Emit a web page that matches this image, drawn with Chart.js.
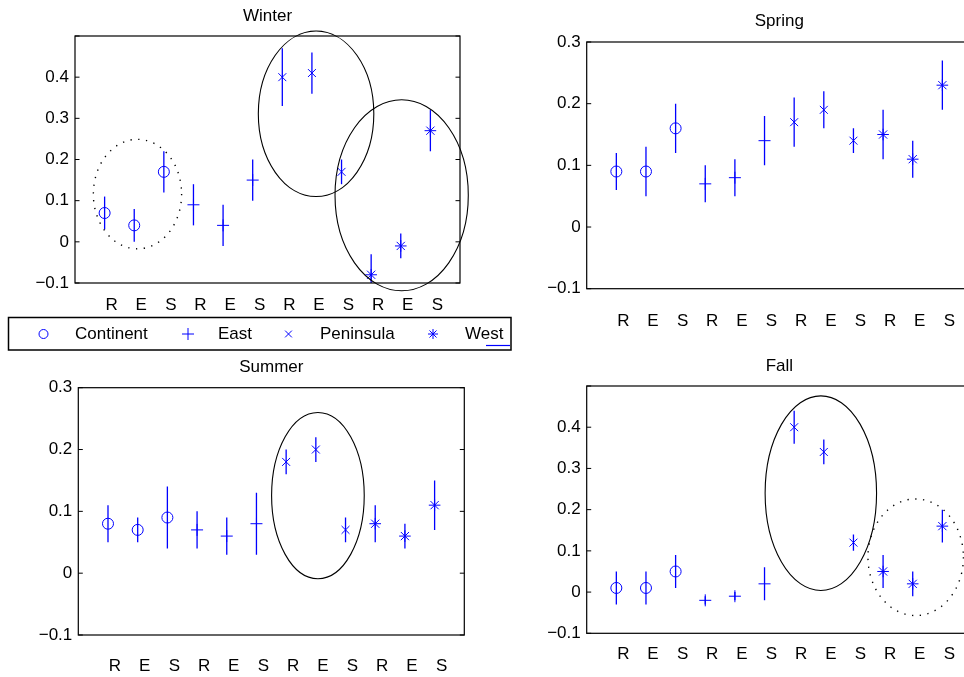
<!DOCTYPE html>
<html>
<head>
<meta charset="utf-8">
<script src="https://cdn.jsdelivr.net/npm/chart.js@4.4.1/dist/chart.umd.min.js"></script>
<style>
html,body{margin:0;padding:0;background:#fff;overflow:hidden;width:964px;height:677px;}
canvas{position:absolute;}
</style>
</head>
<body>
<canvas id="winter" width="514" height="352" style="left:0;top:0"></canvas>
<canvas id="spring" width="510" height="340" style="left:480px;top:0"></canvas>
<canvas id="summer" width="480" height="325" style="left:0;top:352px"></canvas>
<canvas id="fall" width="510" height="325" style="left:480px;top:352px"></canvas>
<script>
// ---------- data ----------
const xLabels = ['R','E','S','R','E','S','R','E','S','R','E','S'];
const seriesNames = ['Continent','East','Peninsula','West'];
const seriesOfPoint = [0,0,0,1,1,1,2,2,2,3,3,3];

const winterMean = [0.07,0.04,0.17,0.09,0.04,0.15,0.40,0.41,0.17,-0.08,-0.01,0.27];
const winterLow  = [0.03,0.00,0.12,0.04,-0.01,0.10,0.33,0.36,0.14,-0.13,-0.04,0.22];
const winterHigh = [0.11,0.08,0.22,0.14,0.09,0.20,0.47,0.46,0.20,-0.03,0.02,0.32];

const springMean = [0.09,0.09,0.16,0.07,0.08,0.14,0.17,0.19,0.14,0.15,0.11,0.23];
const springLow  = [0.06,0.05,0.12,0.04,0.05,0.10,0.13,0.16,0.12,0.11,0.08,0.19];
const springHigh = [0.12,0.13,0.20,0.10,0.11,0.18,0.21,0.22,0.16,0.19,0.14,0.27];

const summerMean = [0.08,0.07,0.09,0.07,0.06,0.08,0.18,0.20,0.07,0.08,0.06,0.11];
const summerLow  = [0.05,0.05,0.04,0.04,0.03,0.03,0.16,0.18,0.05,0.05,0.04,0.07];
const summerHigh = [0.11,0.09,0.14,0.10,0.09,0.13,0.20,0.22,0.09,0.11,0.08,0.15];

const fallMean = [0.01,0.01,0.05,-0.02,-0.01,0.02,0.40,0.34,0.12,0.05,0.02,0.16];
const fallLow  = [-0.03,-0.03,0.01,-0.03,-0.02,-0.02,0.36,0.31,0.10,0.01,-0.01,0.12];
const fallHigh = [0.05,0.05,0.09,-0.01,0.00,0.06,0.44,0.37,0.14,0.09,0.05,0.20];

const yTicksWide = [-0.1,0,0.1,0.2,0.3,0.4,0.5];
const yLabelsWide = ['\u22120.1','0','0.1','0.2','0.3','0.4',''];
const yTicksNarrow = [-0.1,0,0.1,0.2,0.3];
const yLabelsNarrow = ['\u22120.1','0','0.1','0.2','0.3'];

// ellipses: [centerX, centerY, radiusX, radiusY, dotted(1)/solid(0)] in data units
const winterEllipses = [[2.11,0.116,1.49,0.133,1],[8.14,0.311,1.95,0.201,0],[11.03,0.113,2.25,0.232,0]];
const springEllipses = [];
const summerEllipses = [[8.07,0.1255,1.56,0.1345,0]];
const fallEllipses   = [[7.90,0.240,1.88,0.236,0],[11.10,0.0845,1.61,0.1415,1]];

// ---------- styles ----------
const BLUE = '#0000ff';
const FONT = "'Liberation Sans', Arial, Helvetica, sans-serif";
Chart.defaults.font.family = FONT;
const pointStyles = ['circle','cross','crossRot','star'];
const pointRadii = [5.5,6,5.6,5.8];

function buildDatasets(mean){
  return seriesNames.map((name,s)=>({
    label: name,
    data: mean.map((v,i)=>({x:i+1,y:v})).filter((p,i)=>seriesOfPoint[i]===s),
    pointStyle: pointStyles[s],
    pointRadius: pointRadii[s],
    pointHoverRadius: pointRadii[s],
    pointBorderWidth: 1,
    pointHoverBorderWidth: 1,
    borderColor: BLUE,
    backgroundColor: 'rgba(0,0,0,0)',
    showLine: false
  }));
}

function makeChart(id, o){
  const plugin = {
    id: 'deco_'+id,
    beforeDatasetsDraw(chart){
      const ctx = chart.ctx, xs = chart.scales.x, ys = chart.scales.y, ca = chart.chartArea;
      ctx.save();
      ctx.beginPath(); ctx.rect(ca.left, ca.top, ca.right-ca.left, ca.bottom-ca.top); ctx.clip();
      ctx.strokeStyle = BLUE; ctx.lineWidth = 1.3;
      o.low.forEach((lo,i)=>{
        const x = xs.getPixelForValue(i+1);
        ctx.beginPath();
        ctx.moveTo(x, ys.getPixelForValue(lo));
        ctx.lineTo(x, ys.getPixelForValue(o.high[i]));
        ctx.stroke();
      });
      ctx.restore();
    },
    afterDraw(chart){
      const ctx = chart.ctx, xs = chart.scales.x, ys = chart.scales.y, ca = chart.chartArea;
      ctx.save();
      // box
      ctx.strokeStyle = '#000'; ctx.lineWidth = 1.2;
      ctx.strokeRect(ca.left, ca.top, ca.right-ca.left, ca.bottom-ca.top);
      // inner y ticks, both sides
      ctx.lineWidth = 1;
      o.yTicks.forEach(v=>{
        const y = ys.getPixelForValue(v);
        ctx.beginPath();
        ctx.moveTo(ca.left, y); ctx.lineTo(ca.left+4.5, y);
        ctx.moveTo(ca.right, y); ctx.lineTo(ca.right-4.5, y);
        ctx.stroke();
      });
      // ellipses
      o.ellipses.forEach(e=>{
        const cx = xs.getPixelForValue(e[0]), cy = ys.getPixelForValue(e[1]);
        const rx = Math.abs(xs.getPixelForValue(e[0]+e[2]) - cx);
        const ry = Math.abs(ys.getPixelForValue(e[1]+e[3]) - cy);
        ctx.beginPath();
        ctx.ellipse(cx, cy, rx, ry, 0, 0, Math.PI*2);
        if (e[4]) { ctx.setLineDash([1.3,6.5]); ctx.lineWidth = 1.4; }
        else { ctx.setLineDash([]); ctx.lineWidth = 1.1; }
        ctx.strokeStyle = '#000';
        ctx.stroke();
      });
      ctx.setLineDash([]);
      ctx.restore();
      if (o.legend) o.legend(chart);
    }
  };
  return new Chart(document.getElementById(id), {
    type: 'scatter',
    data: { datasets: buildDatasets(o.mean) },
    options: {
      responsive: false,
      animation: false,
      events: [],
      layout: { padding: o.pad },
      plugins: {
        legend: { display: false },
        tooltip: { enabled: false },
        title: {
          display: true, text: o.title, fullSize: false, color: '#000',
          font: { size: 17, weight: 'normal', family: FONT },
          padding: o.titlePad
        }
      },
      scales: {
        x: {
          type: 'linear', min: 0, max: 13,
          afterBuildTicks: s => { s.ticks = xLabels.map((_,i)=>({value:i+1})); },
          afterFit: s => { s.height = o.xHeight; },
          ticks: {
            callback: (v,i) => xLabels[i], autoSkip: false, maxRotation: 0, minRotation: 0,
            labelOffset: 7, padding: o.xPad, color: '#000', font: { size: 17, family: FONT }
          },
          grid: { display: false, drawTicks: false },
          border: { display: false }
        },
        y: {
          type: 'linear', min: o.yTicks[0], max: o.yTicks[o.yTicks.length-1],
          afterBuildTicks: s => { s.ticks = o.yTicks.map(v=>({value:v})); },
          afterFit: s => { s.width = o.yWidth; },
          ticks: {
            callback: (v,i) => o.yLabels[i], autoSkip: false, padding: 6,
            color: '#000', font: { size: 17, family: FONT }
          },
          grid: { display: false, drawTicks: false },
          border: { display: false }
        }
      }
    },
    plugins: [plugin]
  });
}

// legend for the figure (drawn on the Winter canvas)
function drawLegend(chart){
  const ctx = chart.ctx;
  const box = {l:8.5, t:317.5, r:511, b:350};
  const markerX = [43.5,188,288.5,433];
  const textX = [75,218,320,465];
  const cy = 334;
  const legRadii = [4.5,6,4.8,5];
  ctx.save();
  ctx.strokeStyle = '#000'; ctx.lineWidth = 1.5;
  ctx.strokeRect(box.l, box.t, box.r-box.l, box.b-box.t);
  chart.data.datasets.forEach((ds,s)=>{
    ctx.strokeStyle = BLUE; ctx.fillStyle = 'rgba(0,0,0,0)'; ctx.lineWidth = 1;
    Chart.helpers.drawPoint(ctx, {pointStyle: ds.pointStyle, radius: legRadii[s], borderWidth: 1, rotation: 0}, markerX[s], cy);
    ctx.fillStyle = '#000';
    ctx.font = "17px " + FONT;
    ctx.textBaseline = 'middle'; ctx.textAlign = 'left';
    ctx.fillText(ds.label, textX[s], cy + 0.5);
  });
  // clipped line sample peeking at the lower right
  ctx.strokeStyle = BLUE; ctx.lineWidth = 1.2;
  ctx.beginPath(); ctx.moveTo(486, 345.5); ctx.lineTo(510, 345.5); ctx.stroke();
  ctx.restore();
}

makeChart('winter', {
  title: 'Winter', mean: winterMean, low: winterLow, high: winterHigh,
  yTicks: yTicksWide, yLabels: yLabelsWide, ellipses: winterEllipses,
  pad: {left:0, right:54, top:0, bottom:35}, titlePad: {top:5.8, bottom:9.8},
  yWidth: 75, xHeight: 34, xPad: 12, legend: drawLegend
});
makeChart('spring', {
  title: 'Spring', mean: springMean, low: springLow, high: springHigh,
  yTicks: yTicksNarrow, yLabels: yLabelsNarrow, ellipses: springEllipses,
  pad: {left:0, right:18, top:0, bottom:7.3}, titlePad: {top:11.3, bottom:10.3},
  yWidth: 106.7, xHeight: 44, xPad: 22
});
makeChart('summer', {
  title: 'Summer', mean: summerMean, low: summerLow, high: summerHigh,
  yTicks: yTicksNarrow, yLabels: yLabelsNarrow, ellipses: summerEllipses,
  pad: {left:0, right:15.7, top:0, bottom:0}, titlePad: {top:5.3, bottom:10},
  yWidth: 78.3, xHeight: 42, xPad: 21
});
makeChart('fall', {
  title: 'Fall', mean: fallMean, low: fallLow, high: fallHigh,
  yTicks: yTicksWide, yLabels: yLabelsWide, ellipses: fallEllipses,
  pad: {left:0, right:18, top:0, bottom:4.7}, titlePad: {top:4.3, bottom:9.3},
  yWidth: 106.7, xHeight: 39, xPad: 11
});
</script>
</body>
</html>
